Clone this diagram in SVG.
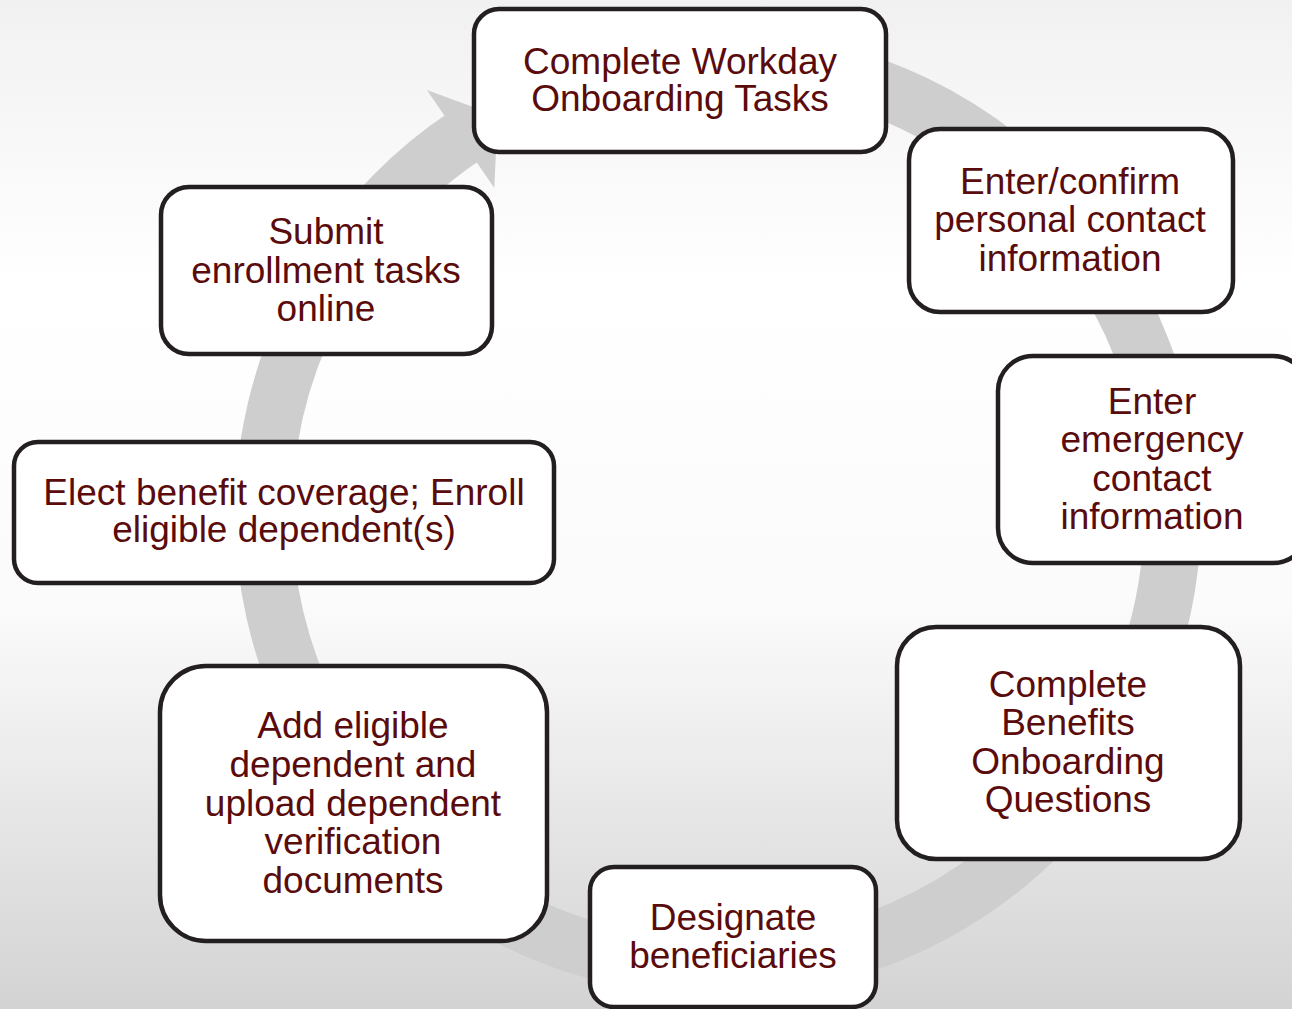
<svg xmlns="http://www.w3.org/2000/svg" width="1292" height="1009" viewBox="0 0 1292 1009">
  <defs>
    <linearGradient id="bg" x1="0" y1="0" x2="0" y2="1">
      <stop offset="0" stop-color="#f1f1f1"/>
      <stop offset="0.28" stop-color="#ffffff"/>
      <stop offset="0.6" stop-color="#fbfbfb"/>
      <stop offset="1" stop-color="#d3d3d3"/>
    </linearGradient>
    <style>
      .box { fill: #ffffff; stroke: #231f20; stroke-width: 4.5; }
      .lbl { font-family: "Liberation Sans", Arial, sans-serif; font-size: 37px; fill: #5a0b0b; text-anchor: middle; }
      .ring { fill: none; stroke: #cecece; stroke-width: 57; }
      .head { fill: #cecece; }
    </style>
  </defs>

  <!-- backdrop -->
  <rect x="0" y="0" width="1292" height="1009" fill="url(#bg)"/>

  <!-- circular process arrow (clockwise) -->
  <g id="connectors">
    <path class="ring" d="M 718 59 A 454.5 454.5 0 1 1 467.2 134.5"/>
    <polygon class="head" points="426.9,89.9 497.6,116 494.3,188"/>
  </g>

  <g id="node-workday">
    <rect class="box" x="474" y="9" width="412" height="143" rx="25"/>
    <text class="lbl" x="680" y="74">Complete Workday</text>
    <text class="lbl" x="680" y="111">Onboarding Tasks</text>
  </g>

  <g id="node-contact">
    <rect class="box" x="909" y="129" width="324" height="183" rx="31"/>
    <text class="lbl" x="1070" y="194">Enter/confirm</text>
    <text class="lbl" x="1070" y="232">personal contact</text>
    <text class="lbl" x="1070" y="271">information</text>
  </g>

  <g id="node-emergency">
    <rect class="box" x="998" y="356" width="310" height="207" rx="35"/>
    <text class="lbl" x="1152" y="414">Enter</text>
    <text class="lbl" x="1152" y="452">emergency</text>
    <text class="lbl" x="1152" y="491">contact</text>
    <text class="lbl" x="1152" y="529">information</text>
  </g>

  <g id="node-questions">
    <rect class="box" x="897" y="627" width="343" height="232" rx="39"/>
    <text class="lbl" x="1068" y="697">Complete</text>
    <text class="lbl" x="1068" y="735">Benefits</text>
    <text class="lbl" x="1068" y="774">Onboarding</text>
    <text class="lbl" x="1068" y="812">Questions</text>
  </g>

  <g id="node-beneficiaries">
    <rect class="box" x="590" y="867" width="286" height="140" rx="24"/>
    <text class="lbl" x="733" y="930">Designate</text>
    <text class="lbl" x="733" y="968">beneficiaries</text>
  </g>

  <g id="node-dependents">
    <rect class="box" x="160" y="666" width="387" height="275" rx="46"/>
    <text class="lbl" x="353" y="738">Add eligible</text>
    <text class="lbl" x="353" y="777">dependent and</text>
    <text class="lbl" x="353" y="816">upload dependent</text>
    <text class="lbl" x="353" y="854">verification</text>
    <text class="lbl" x="353" y="893">documents</text>
  </g>

  <g id="node-coverage">
    <rect class="box" x="14" y="442" width="540" height="141" rx="24"/>
    <text class="lbl" x="284" y="505">Elect benefit coverage; Enroll</text>
    <text class="lbl" x="284" y="542">eligible dependent(s)</text>
  </g>

  <g id="node-submit">
    <rect class="box" x="161" y="187" width="331" height="167" rx="28"/>
    <text class="lbl" x="326" y="244">Submit</text>
    <text class="lbl" x="326" y="283">enrollment tasks</text>
    <text class="lbl" x="326" y="321">online</text>
  </g>
</svg>
